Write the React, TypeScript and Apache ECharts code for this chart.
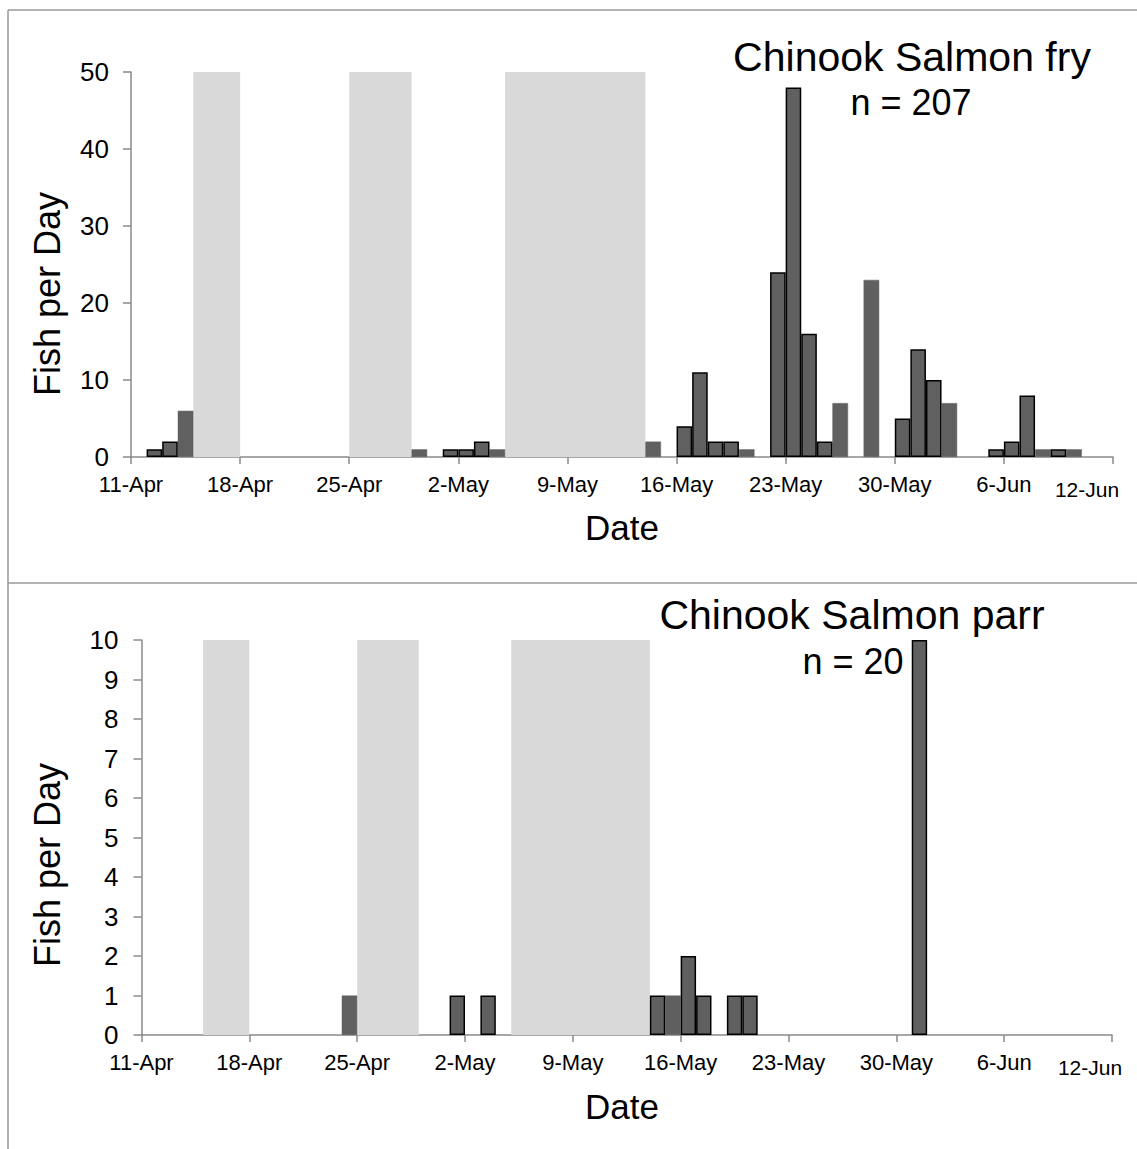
import React, { useEffect, useRef } from "react";
import * as echarts from "echarts";

const MONTHS = ["Jan", "Feb", "Mar", "Apr", "May", "Jun", "Jul", "Aug", "Sep", "Oct", "Nov", "Dec"];
const DAY_COUNT = 63; // 11-Apr .. 12-Jun
const categories: string[] = [];
for (let i = 0; i < DAY_COUNT; i++) {
  const d = new Date(2000, 3, 11 + i);
  categories.push(`${d.getDate()}-${MONTHS[d.getMonth()]}`);
}

// Shaded (not sampled) periods, inclusive
const shadePeriods: [string, string][] = [
  ["15-Apr", "17-Apr"],
  ["25-Apr", "28-Apr"],
  ["5-May", "13-May"],
];

// Chinook Salmon fry
const fryOutlined: [string, number][] = [
  ["12-Apr", 1], ["13-Apr", 2], ["1-May", 1], ["2-May", 1], ["3-May", 2],
  ["16-May", 4], ["17-May", 11], ["18-May", 2], ["19-May", 2],
  ["22-May", 24], ["23-May", 48], ["24-May", 16], ["25-May", 2],
  ["30-May", 5], ["31-May", 14], ["1-Jun", 10],
  ["5-Jun", 1], ["6-Jun", 2], ["7-Jun", 8], ["9-Jun", 1],
];
const fryPlain: [string, number][] = [
  ["14-Apr", 6], ["29-Apr", 1], ["4-May", 1], ["14-May", 2], ["20-May", 1],
  ["26-May", 7], ["28-May", 23], ["2-Jun", 7], ["8-Jun", 1], ["10-Jun", 1],
];

// Chinook Salmon parr
const parrOutlined: [string, number][] = [
  ["1-May", 1], ["3-May", 1], ["14-May", 1], ["16-May", 2], ["17-May", 1],
  ["19-May", 1], ["20-May", 1], ["31-May", 10],
];
const parrPlain: [string, number][] = [["24-Apr", 1], ["15-May", 1]];

const fryYTicks = { max: 50, interval: 10 };
const parrYTicks = { max: 10, interval: 1 };

const FONT = "'Liberation Sans', Arial, sans-serif";
const BAR = "#606060";
const SHADE = "#d9d9d9";
const AXIS = "#8a8a8a";

function toSeriesData(pairs: [string, number][]) {
  const arr: (number | string)[] = new Array(DAY_COUNT).fill("-");
  pairs.forEach(([d, v]) => {
    const idx = categories.indexOf(d);
    if (idx >= 0) arr[idx] = v;
  });
  return arr;
}

function shadeData(max: number) {
  return shadePeriods.map(([a, b]) => [categories.indexOf(a), categories.indexOf(b) + 1, max]);
}

export default function App() {
  const ref = useRef<HTMLDivElement>(null);
  useEffect(() => {
    if (!ref.current) return;
    const chart = echarts.init(ref.current, undefined, { renderer: "svg" });

    const grids = [
      { left: 131, top: 72, width: 982, height: 385 },
      { left: 141.5, top: 640, width: 970.5, height: 395 },
    ];

    const xAxes: any[] = [];
    const yAxes: any[] = [];
    const series: any[] = [];
    const yCfg = [fryYTicks, parrYTicks];
    const outlined = [fryOutlined, parrOutlined];
    const plain = [fryPlain, parrPlain];

    for (let g = 0; g < 2; g++) {
      xAxes.push({
        type: "category",
        gridIndex: g,
        data: categories,
        show: false,
        boundaryGap: true,
      });
      xAxes.push({
        type: "value",
        gridIndex: g,
        position: "bottom",
        min: 0,
        max: DAY_COUNT,
        interval: 7,
        axisLine: { show: true, lineStyle: { color: AXIS, width: 1.5 } },
        axisTick: { show: true, length: 7, lineStyle: { color: AXIS, width: 1.5 } },
        splitLine: { show: false },
        axisLabel: {
          color: "#000",
          fontSize: 22,
          fontFamily: FONT,
          margin: 16,
          formatter: (v: number) => (v >= DAY_COUNT ? "" : categories[v] ?? ""),
        },
      });
      yAxes.push({
        type: "value",
        gridIndex: g,
        min: 0,
        max: yCfg[g].max,
        interval: yCfg[g].interval,
        axisLine: { show: true, lineStyle: { color: AXIS, width: 1.5 } },
        axisTick: { show: true, length: 8, lineStyle: { color: AXIS, width: 1.5 } },
        splitLine: { show: false },
        axisLabel: { color: "#000", fontSize: 26, fontFamily: FONT, margin: g === 0 ? 22 : 23 },
      });
      const xi = g * 2;
      series.push({
        type: "custom",
        xAxisIndex: xi + 1,
        yAxisIndex: g,
        data: shadeData(yCfg[g].max),
        encode: { x: [0, 1], y: 2 },
        silent: true,
        z: 1,
        renderItem: (params: any, api: any) => {
          const p0 = api.coord([api.value(0), api.value(2)]);
          const p1 = api.coord([api.value(1), 0]);
          return {
            type: "rect",
            shape: { x: p0[0], y: p0[1], width: p1[0] - p0[0], height: p1[1] - p0[1] },
            style: { fill: SHADE },
          };
        },
      });
      series.push({
        type: "bar",
        xAxisIndex: xi,
        yAxisIndex: g,
        data: toSeriesData(plain[g]),
        barGap: "-100%",
        barCategoryGap: "0%",
        itemStyle: { color: BAR, borderColor: BAR, borderWidth: 0.5 },
        z: 2,
      });
      series.push({
        type: "bar",
        xAxisIndex: xi,
        yAxisIndex: g,
        data: toSeriesData(outlined[g]),
        barGap: "-100%",
        barCategoryGap: "0%",
        itemStyle: { color: BAR, borderColor: "#000", borderWidth: 1.5 },
        z: 3,
      });
    }

    const txt = (x: number, y: number, text: string, size: number, extra: any = {}) => ({
      type: "text",
      x,
      y,
      style: {
        text,
        fill: "#000",
        font: `${size}px ${FONT}`,
        align: "center",
        verticalAlign: "middle",
      },
      ...extra,
    });

    const frame = { stroke: "#9a9a9a", lineWidth: 1.5 };

    chart.setOption({
      animation: false,
      grid: grids,
      xAxis: xAxes,
      yAxis: yAxes,
      series,
      graphic: [
        { type: "line", shape: { x1: 8, y1: 10, x2: 1137, y2: 10 }, style: frame },
        { type: "line", shape: { x1: 8, y1: 10, x2: 8, y2: 1149 }, style: frame },
        { type: "line", shape: { x1: 8, y1: 583, x2: 1137, y2: 583 }, style: frame },
        txt(912, 57, "Chinook Salmon fry", 41),
        txt(911, 102, "n = 207", 36),
        txt(852, 615, "Chinook Salmon parr", 41),
        txt(853, 661, "n = 20", 36),
        txt(622, 527, "Date", 35),
        txt(622, 1106, "Date", 35),
        txt(47, 294, "Fish per Day", 36, { rotation: Math.PI / 2 }),
        txt(47, 865, "Fish per Day", 36, { rotation: Math.PI / 2 }),
        txt(1087, 489, "12-Jun", 21),
        txt(1090, 1067, "12-Jun", 21),
      ],
    });
    return () => chart.dispose();
  }, []);
  return (
    <div
      ref={ref}
      style={{ position: "absolute", left: 0, top: 0, width: 1137, height: 1149, background: "#fff" }}
    />
  );
}
